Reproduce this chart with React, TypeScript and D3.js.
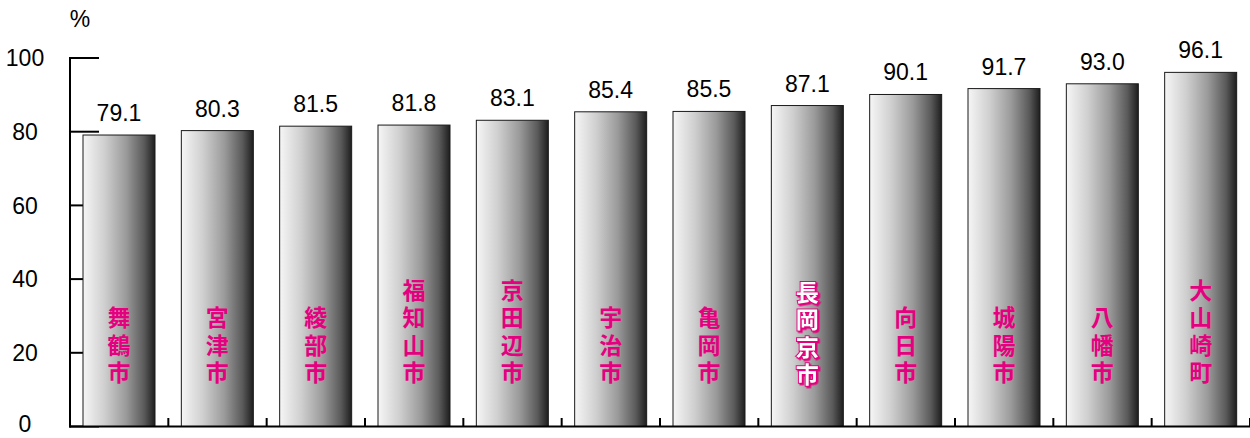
import React from "react";
import * as d3 from "d3";

const categories = ["舞鶴市", "宮津市", "綾部市", "福知山市", "京田辺市", "宇治市", "亀岡市", "長岡京市", "向日市", "城陽市", "八幡市", "大山崎町"];
const values = [79.1, 80.3, 81.5, 81.8, 83.1, 85.4, 85.5, 87.1, 90.1, 91.7, 93.0, 96.1];
const yTicks = [0, 20, 40, 60, 80, 100];
const highlighted = ["長岡京市"];
const unitLabel = "%";

const W = 1250;
const H = 438;
const FONT = "'Liberation Sans', Arial, sans-serif";
const CJK = "'Noto Sans CJK JP', sans-serif";
const MAGENTA = "#e5007f";

export default function App() {
  const x = d3.scaleBand<string>().domain(categories).range([70, 1250]).paddingInner(0).paddingOuter(0);
  const y = d3.scaleLinear().domain([0, 100]).range([426.5, 58]);
  const step = x.step();
  const barW = 72;
  const barOff = 13;
  const fs = 23;
  const lineH = 27.3;
  const textBottom = 381;

  return (
    <svg width={W} height={H} style={{ position: "absolute", left: 0, top: 0 }}>
      <defs>
        <linearGradient id="barGrad" x1="0" y1="0" x2="1" y2="0">
          <stop offset="0" stopColor="#f6f6f6" />
          <stop offset="0.3" stopColor="#cfcfcf" />
          <stop offset="0.6" stopColor="#9a9a9a" />
          <stop offset="0.85" stopColor="#5a5a5a" />
          <stop offset="1" stopColor="#1e1e1e" />
        </linearGradient>
        <filter id="hlShadow" x="-20%" y="-20%" width="150%" height="150%">
          <feDropShadow dx="1.5" dy="1.5" stdDeviation="0" floodColor={MAGENTA} floodOpacity="1" />
        </filter>
      </defs>
      <rect x={0} y={0} width={W} height={H} fill="#fff" />
      {yTicks.map((t) => (
        <g key={t}>
          <line x1={70} x2={99} y1={y(t)} y2={y(t)} stroke="#000" strokeWidth={2} />
          <text x={25} y={Math.min(y(t), 424)} dy="0.36em" textAnchor="middle" fontFamily={FONT} fontSize={23}>
            {t}
          </text>
        </g>
      ))}
      <text x={80} y={27} textAnchor="middle" fontFamily={FONT} fontSize={23}>
        {unitLabel}
      </text>
      {categories.map((c) => (
        <line key={c} x1={(x(c) as number) + step} x2={(x(c) as number) + step} y1={426.5} y2={418} stroke="#000" strokeWidth={2} />
      ))}
      {categories.map((c, i) => {
        const bx = (x(c) as number) + barOff;
        const cx = bx + barW / 2;
        const top = y(values[i]);
        const chars = Array.from(c);
        const n = chars.length;
        const hl = highlighted.includes(c);
        const startY = textBottom - (n - 1) * lineH - 0.88 * fs + (hl ? 2 : 0);
        const textProps = hl
          ? { fill: "#fff", stroke: MAGENTA, strokeWidth: 2, paintOrder: "stroke", filter: "url(#hlShadow)" }
          : { fill: MAGENTA };
        return (
          <g key={c}>
            <rect x={bx} y={top} width={barW} height={y(0) - top} fill="url(#barGrad)" stroke="#1a1a1a" strokeWidth={1} />
            <text x={cx} y={top - 14} textAnchor="middle" fontFamily={FONT} fontSize={23}>
              {values[i].toFixed(1)}
            </text>
            {chars.map((ch, k) => (
              <text
                key={k}
                x={cx}
                y={startY + k * lineH}
                textAnchor="start"
                fontFamily={CJK}
                fontWeight={700}
                fontSize={fs}
                style={{ writingMode: "vertical-rl" }}
                {...textProps}
              >
                {ch}
              </text>
            ))}
          </g>
        );
      })}
      <line x1={70} x2={70} y1={57} y2={427.5} stroke="#000" strokeWidth={2} />
      <line x1={69} x2={1250} y1={426.5} y2={426.5} stroke="#000" strokeWidth={2} />
    </svg>
  );
}
